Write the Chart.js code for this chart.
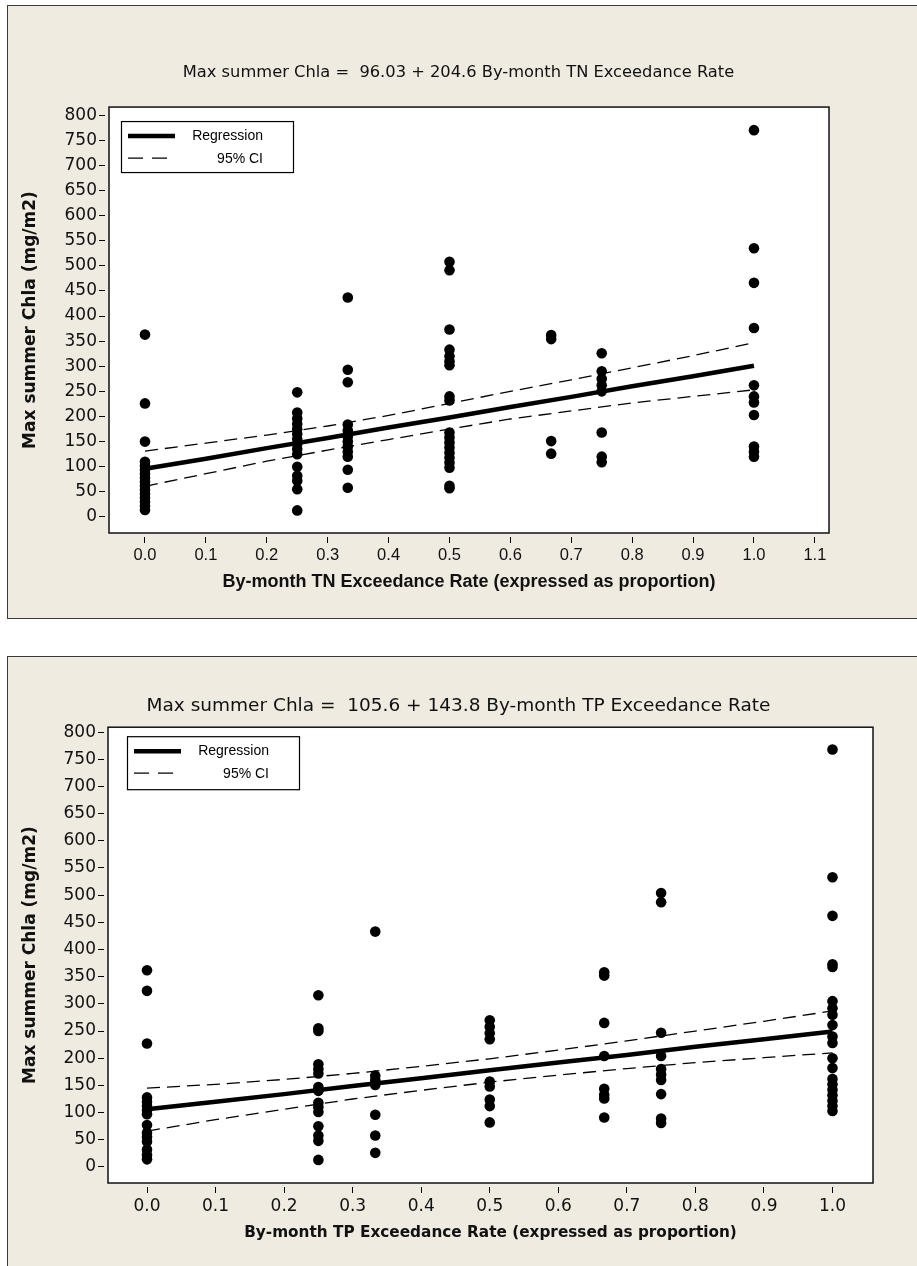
<!DOCTYPE html>
<html>
<head>
<meta charset="utf-8">
<script src="https://cdn.jsdelivr.net/npm/chart.js@4.4.1/dist/chart.umd.min.js"></script>
<style>
  body { margin: 0; background: #fff; width: 917px; height: 1266px; position: relative; overflow: hidden; }
  .panel { position: absolute; left: 7px; width: 930px; background: #efebe1; border: 1.5px solid #3a3a3a; box-sizing: border-box; }
  #p1 { top: 5px; height: 614px; }
  #p2 { top: 656px; height: 640px; }
  canvas { position: absolute; left: 0; }
  #c1 { top: 0; }
  #c2 { top: 640px; }
</style>
</head>
<body>
<div class="panel" id="p1"></div>
<div class="panel" id="p2"></div>
<canvas id="c1" width="917" height="640"></canvas>
<canvas id="c2" width="917" height="626"></canvas>
<script>
// exceedance rates (x groups) and max summer Chla values read per group
var tnRates = [0, 0.25, 0.333, 0.5, 0.667, 0.75, 1.0];
var tnChla = [
  [363, 226, 150, 110, 102, 94, 86, 78, 70, 62, 54, 46, 38, 30, 22, 14],
  [248, 208, 196, 185, 175, 165, 155, 145, 135, 125, 100, 82, 72, 55, 13],
  [437, 293, 268, 184, 172, 160, 150, 140, 130, 120, 94, 58],
  [508, 491, 373, 333, 320, 310, 302, 240, 232, 168, 158, 148, 138, 128, 118, 108, 98, 62, 57],
  [362, 354, 151, 126],
  [326, 290, 275, 262, 250, 168, 120, 109],
  [770, 535, 466, 376, 262, 240, 228, 203, 140, 130, 120]
];
var tpRates = [0, 0.25, 0.333, 0.5, 0.667, 0.75, 1.0];
var tpChla = [
  [362, 324, 227, 128, 120, 112, 104, 97, 77, 63, 55, 47, 32, 22, 14],
  [316, 255, 250, 189, 180, 172, 147, 140, 118, 110, 101, 75, 58, 48, 13],
  [433, 168, 160, 151, 96, 58, 26],
  [270, 258, 246, 235, 157, 148, 124, 112, 82],
  [358, 352, 265, 204, 144, 133, 126, 91],
  [504, 487, 247, 204, 180, 170, 160, 134, 89, 81],
  [768, 533, 462, 373, 368, 305, 292, 280, 261, 240, 228, 200, 182, 162, 152, 142, 132, 122, 112, 103]
];

// fitted line and 95% CI read at these rates
var fitRates = [0, 0.1, 0.2, 0.3, 0.4, 0.5, 0.6, 0.7, 0.8, 0.9, 1.0];
var tnFit   = [96, 116, 137, 157, 178, 198, 219, 239, 260, 280, 301];
var tnUpper = [131, 147, 163, 181, 202, 226, 250, 273, 297, 321, 347];
var tnLower = [61, 86, 111, 133, 154, 175, 195, 211, 227, 240, 253];
var tpFit   = [106, 120, 134, 149, 163, 178, 192, 206, 221, 235, 249];
var tpUpper = [145, 152, 161, 172, 185, 199, 215, 232, 250, 268, 287];
var tpLower = [66, 87, 106, 125, 141, 156, 169, 181, 192, 201, 210];

var yTicks = { min: 0, max: 800, step: 50 };

function points(rates, groups) {
  var out = [];
  rates.forEach(function (r, i) {
    groups[i].forEach(function (v) { out.push({ x: r, y: v }); });
  });
  return out;
}
function curve(xs, ys) {
  return xs.map(function (x, i) { return { x: x, y: ys[i] }; });
}

var framePlugin = {
  id: 'frame',
  beforeDraw: function (chart) {
    var a = chart.chartArea, ctx = chart.ctx;
    ctx.save();
    ctx.fillStyle = '#fff';
    ctx.fillRect(a.left, a.top, a.width, a.height);
    ctx.restore();
  },
  afterDraw: function (chart, args, opts) {
    var a = chart.chartArea, ctx = chart.ctx;
    ctx.save();
    ctx.strokeStyle = '#111';
    ctx.lineWidth = 1.5;
    ctx.strokeRect(a.left, a.top, a.width, a.height);
    // legend box
    var x = a.left + opts.dx, y = a.top + opts.dy;
    ctx.lineWidth = 1.2;
    ctx.strokeStyle = '#000';
    ctx.strokeRect(x + 0.5, y + 0.5, 172, opts.h);
    ctx.beginPath();
    ctx.lineWidth = 4.5;
    ctx.moveTo(x + 7, y + 15); ctx.lineTo(x + 54, y + 15);
    ctx.stroke();
    ctx.beginPath();
    ctx.lineWidth = 1.3;
    ctx.setLineDash([15, 9]);
    ctx.moveTo(x + 7, y + 37); ctx.lineTo(x + 50, y + 37);
    ctx.stroke();
    ctx.setLineDash([]);
    ctx.fillStyle = '#000';
    ctx.font = '14px "Liberation Sans"';
    ctx.textAlign = 'right';
    ctx.textBaseline = 'middle';
    ctx.fillText(chart.data.datasets[1].label, x + 142, y + 15);
    ctx.fillText(chart.data.datasets[2].label, x + 142, y + 38);
    ctx.restore();
  }
};

function makeChart(id, c) {
  return new Chart(document.getElementById(id), {
    type: 'scatter',
    data: {
      datasets: [
        { label: 'Data', data: points(c.rates, c.chla), backgroundColor: '#000', borderWidth: 0, pointRadius: 5.3 },
        { label: 'Regression', data: curve(fitRates, c.fit), showLine: true, borderColor: '#000', borderWidth: 4.5, pointRadius: 0 },
        { label: '95% CI', data: curve(fitRates, c.upper), showLine: true, borderColor: '#000', borderWidth: 1.3, borderDash: [13, 7], pointRadius: 0 },
        { label: '95% CI lower', data: curve(fitRates, c.lower), showLine: true, borderColor: '#000', borderWidth: 1.3, borderDash: [13, 7], pointRadius: 0 }
      ]
    },
    options: {
      responsive: false,
      animation: false,
      layout: { padding: 0 },
      plugins: {
        legend: { display: false },
        tooltip: { enabled: false },
        title: {
          display: true,
          text: c.title,
          color: '#111',
          font: { family: 'DejaVu Sans', size: c.titleSize, weight: 'normal' },
          padding: { top: c.titleTop, bottom: c.titleBottom }
        },
        frame: { dx: c.legDx, dy: c.legDy, h: c.legH }
      },
      scales: {
        x: {
          type: 'linear',
          min: c.xMin, max: c.xMax,
          afterFit: function (s) { s.height = c.xHeight; },
          grid: { display: true, drawOnChartArea: false, drawTicks: true, tickLength: 10, tickColor: '#000', tickWidth: 1, tickBorderDash: [6, 4], tickBorderDashOffset: 6 },
          border: { display: false },
          ticks: {
            stepSize: 0.1, includeBounds: false, maxRotation: 0, autoSkip: false, padding: c.xTickPad,
            color: '#111', font: { family: c.xTickFamily, size: c.xTickSize },
            callback: function (v) { return v.toFixed(1); }
          },
          title: {
            display: true, text: c.xTitle, color: '#111',
            font: { family: c.xTitleFamily, size: c.xTitleSize, weight: 'bold' },
            padding: { top: 0, bottom: c.xTitleBottom }
          }
        },
        y: {
          min: c.yMin, max: c.yMax,
          afterFit: function (s) { s.width = c.yWidth; },
          afterBuildTicks: function (s) {
            var t = [];
            for (var v = yTicks.min; v <= yTicks.max; v += yTicks.step) t.push({ value: v });
            s.ticks = t;
          },
          grid: { display: true, drawOnChartArea: false, drawTicks: true, tickLength: 10, tickColor: '#000', tickWidth: 1, tickBorderDash: [6, 4] },
          border: { display: false },
          ticks: {
            padding: 2,
            color: '#111', font: { family: 'DejaVu Sans', size: 17 }
          },
          title: {
            display: true, text: 'Max summer Chla (mg/m2)', color: '#111',
            font: { family: 'DejaVu Sans', size: 17, weight: 'bold' },
            padding: { top: 20, bottom: 0 }
          }
        },
        // empty right-hand axis that only reserves the margin right of the plot
        pad: {
          type: 'linear', position: 'right', min: 0, max: 1,
          afterFit: function (s) { s.width = c.padRight; },
          grid: { display: false }, border: { display: false }, ticks: { display: false }
        }
      }
    },
    plugins: [framePlugin]
  });
}

makeChart('c1', {
  rates: tnRates, chla: tnChla, fit: tnFit, upper: tnUpper, lower: tnLower,
  title: 'Max summer Chla =  96.03 + 204.6 By-month TN Exceedance Rate',
  titleSize: 16.3, titleTop: 63, titleBottom: 24.5,
  padRight: 88, yWidth: 109, xHeight: 107,
  xMin: -0.0591, xMax: 1.1232, yMin: -32, yMax: 816,
  xTickFamily: 'Liberation Sans', xTickSize: 16.5, xTickPad: 3,
  xTitle: 'By-month TN Exceedance Rate (expressed as proportion)',
  xTitleFamily: 'Liberation Sans', xTitleSize: 18, xTitleBottom: 47,
  legDx: 12, legDy: 14, legH: 51
});

makeChart('c2', {
  rates: tpRates, chla: tpChla, fit: tpFit, upper: tpUpper, lower: tpLower,
  title: 'Max summer Chla =  105.6 + 143.8 By-month TP Exceedance Rate',
  titleSize: 18.5, titleTop: 55, titleBottom: 10,
  padRight: 44, yWidth: 108, xHeight: 83,
  xMin: -0.0569, xMax: 1.0591, yMin: -29.5, yMax: 809,
  xTickFamily: 'DejaVu Sans', xTickSize: 17, xTickPad: 3,
  xTitle: 'By-month TP Exceedance Rate (expressed as proportion)',
  xTitleFamily: 'DejaVu Sans', xTitleSize: 15.3, xTitleBottom: 24,
  legDx: 19, legDy: 9, legH: 53
});
</script>
</body>
</html>
